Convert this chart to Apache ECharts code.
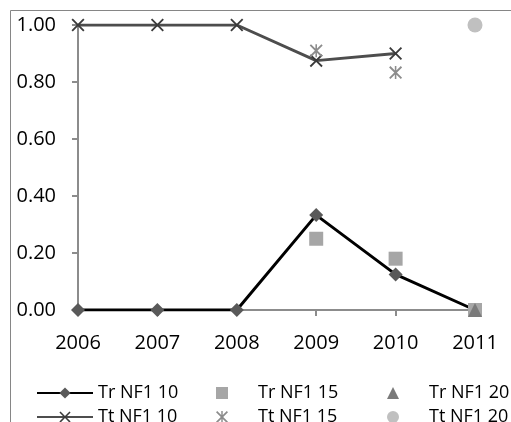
<!DOCTYPE html>
<html>
<head>
<meta charset="utf-8">
<script src="https://cdn.jsdelivr.net/npm/echarts@6/dist/echarts.min.js"></script>
<style>
html,body{margin:0;padding:0;background:#fff;}
#main{width:511px;height:422px;}
</style>
</head>
<body>
<div id="main"></div>
<script>
// categories and values
var years = ['2006', '2007', '2008', '2009', '2010', '2011'];
var trNF1_10 = [0, 0, 0, 0.333, 0.125, 0];
var trNF1_15 = [null, null, null, 0.25, 0.18, 0];
var trNF1_20 = [null, null, null, null, null, 0];
var ttNF1_10 = [1, 1, 1, 0.875, 0.9, null];
var ttNF1_15 = [null, null, null, 0.91, 0.833, null];
var ttNF1_20 = [null, null, null, null, null, 1];
var yTicks = [0, 0.2, 0.4, 0.6, 0.8, 1.0];

var chart = echarts.init(document.getElementById('main'));

// cross and asterisk shapes (filled paths)
var crossPath = 'path://M0,1 L1,0 L5,4 L9,0 L10,1 L6,5 L10,9 L9,10 L5,6 L1,10 L0,9 L4,5 Z';
var starPath = 'path://M0,1 L1,0 L10,9 L9,10 Z M9,0 L10,1 L1,10 L0,9 Z M4.4,0 L5.6,0 L5.6,10 L4.4,10 Z';

var font = 'Open Sans';
var legendText = {fontFamily: font, fontSize: 18, color: '#000', lineHeight: 18};

var option = {
    animation: false,
    backgroundColor: '#fff',
    graphic: [{
        type: 'rect',
        shape: {x: 10.5, y: 10.5, width: 540, height: 440},
        style: {fill: 'none', stroke: '#868686', lineWidth: 1},
        silent: true
    }],
    grid: {left: 78, right: 36, top: 25, bottom: 112, containLabel: false},
    xAxis: {
        type: 'category',
        data: years,
        boundaryGap: false,
        axisLine: {lineStyle: {color: '#8c8c8c', width: 2}},
        axisTick: {show: true, length: 6, lineStyle: {color: '#8c8c8c', width: 2}},
        axisLabel: {fontFamily: font, fontSize: 20, color: '#000', margin: 23}
    },
    yAxis: {
        type: 'value',
        min: yTicks[0],
        max: yTicks[yTicks.length - 1],
        interval: 0.2,
        splitLine: {show: false},
        axisLine: {show: true, lineStyle: {color: '#8c8c8c', width: 2}},
        axisTick: {show: true, length: 6, lineStyle: {color: '#8c8c8c', width: 2}},
        axisLabel: {
            fontFamily: font, fontSize: 20, color: '#000', margin: 22,
            formatter: function (v) { return v.toFixed(2); }
        }
    },
    legend: [{
        orient: 'vertical', left: 36, top: 384, height: 80, itemGap: 6,
        itemWidth: 56, itemHeight: 14, padding: 0,
        textStyle: legendText,
        data: ['Tr NF1 10', 'Tt NF1 10']
    }, {
        orient: 'vertical', left: 216, top: 384, height: 80, itemGap: 6,
        itemWidth: 12, itemHeight: 12, padding: 0,
        textStyle: Object.assign({padding: [0, 0, 0, 25]}, legendText),
        data: ['Tr NF1 15', 'Tt NF1 15']
    }, {
        orient: 'vertical', left: 387, top: 384, height: 80, itemGap: 6,
        itemWidth: 12, itemHeight: 12, padding: 0,
        textStyle: Object.assign({padding: [0, 0, 0, 25]}, legendText),
        data: ['Tr NF1 20', 'Tt NF1 20']
    }],
    series: [{
        name: 'Tr NF1 10',
        type: 'line',
        data: trNF1_10,
        symbol: 'diamond',
        symbolSize: 14,
        lineStyle: {color: '#000', width: 3},
        itemStyle: {color: '#595959'},
        z: 3
    }, {
        name: 'Tr NF1 15',
        type: 'scatter',
        data: trNF1_15,
        symbol: 'rect',
        symbolSize: 14,
        itemStyle: {color: '#a6a6a6', opacity: 1},
        z: 3
    }, {
        name: 'Tr NF1 20',
        type: 'scatter',
        data: trNF1_20,
        symbol: 'triangle',
        symbolSize: 14,
        itemStyle: {color: '#7a7a7a', opacity: 1},
        z: 4
    }, {
        name: 'Tt NF1 10',
        type: 'line',
        data: ttNF1_10,
        symbol: crossPath,
        symbolSize: 13,
        lineStyle: {color: '#4d4d4d', width: 3},
        itemStyle: {color: '#3a3a3a'},
        z: 5
    }, {
        name: 'Tt NF1 15',
        type: 'scatter',
        data: ttNF1_15,
        symbol: starPath,
        symbolSize: 13,
        itemStyle: {color: '#8c8c8c', opacity: 1},
        z: 6
    }, {
        name: 'Tt NF1 20',
        type: 'scatter',
        data: ttNF1_20,
        symbol: 'circle',
        symbolSize: 15,
        itemStyle: {color: '#c0c0c0', opacity: 1},
        z: 6
    }]
};

chart.setOption(option);
</script>
</body>
</html>
